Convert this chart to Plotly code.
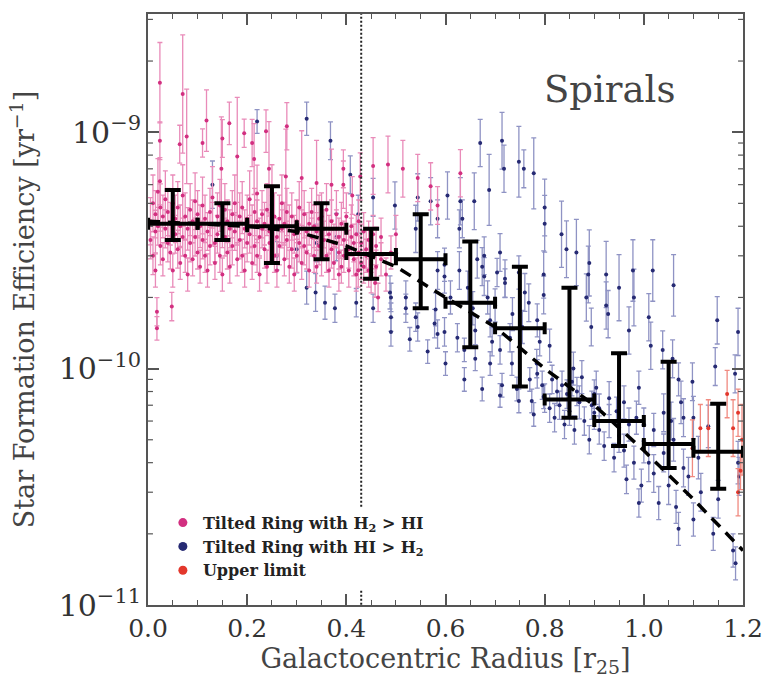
import plotly.graph_objects as go

# ---------------- data (SFE in units of 1e-10 yr^-1, errors in dex) ----------------
# Tilted rings with H2 > HI  (x [r25], SFE [1e-10 /yr], err [dex])
magenta_points = [
    (0.024, 16.2, 0.17), (0.024, 9.2, 0.08), (0.024, 6.2, 0.10), (0.018, 1.74, 0.06),
    (0.018, 1.48, 0.05), (0.048, 1.83, 0.06), (0.070, 14.5, 0.25), (0.078, 9.6, 0.20),
    (0.064, 8.9, 0.08), (0.118, 11.2, 0.13), (0.110, 9.0, 0.06), (0.164, 10.9, 0.09),
    (0.150, 9.4, 0.08), (0.148, 7.0, 0.22), (0.180, 7.9, 0.25), (0.194, 9.9, 0.06),
    (0.210, 9.0, 0.10), (0.214, 7.7, 0.15), (0.238, 10.1, 0.09), (0.244, 7.0, 0.20),
    (0.220, 5.5, 0.12), (0.280, 10.6, 0.10), (0.278, 6.5, 0.20), (0.310, 6.4, 0.20),
    (0.340, 6.1, 0.18), (0.370, 6.0, 0.15), (0.394, 6.0, 0.10), (0.394, 7.0, 0.08),
    (0.412, 5.4, 0.08), (0.428, 6.5, 0.10), (0.454, 7.2, 0.12), (0.454, 3.7, 0.08),
    (0.484, 7.3, 0.12), (0.514, 7.0, 0.12), (0.500, 3.7, 0.08), (0.544, 6.4, 0.10),
    (0.570, 5.9, 0.10), (0.584, 4.9, 0.08), (0.630, 6.7, 0.10), (0.385, 2.5, 0.07),
    (0.424, 2.6, 0.07), (0.458, 2.3, 0.06), (0.464, 2.0, 0.06),
    (0.005, 4.2, 0.10), (0.005, 3.5, 0.08), (0.010, 5.0, 0.12), (0.010, 3.0, 0.08),
    (0.015, 4.5, 0.10), (0.015, 3.8, 0.09), (0.015, 2.6, 0.07), (0.020, 4.0, 0.08),
    (0.020, 5.6, 0.14), (0.025, 3.3, 0.08), (0.025, 4.8, 0.10), (0.030, 4.4, 0.09),
    (0.030, 2.9, 0.07), (0.035, 3.9, 0.08), (0.035, 5.2, 0.12), (0.040, 4.6, 0.10),
    (0.040, 3.4, 0.08), (0.045, 3.1, 0.07), (0.045, 4.1, 0.09), (0.050, 5.0, 0.12),
    (0.050, 2.6, 0.07), (0.055, 3.7, 0.08), (0.055, 4.3, 0.10), (0.060, 4.8, 0.11),
    (0.060, 3.2, 0.08), (0.065, 2.8, 0.07), (0.065, 4.0, 0.09), (0.070, 3.6, 0.08),
    (0.070, 5.4, 0.13), (0.075, 4.4, 0.10), (0.075, 3.0, 0.07), (0.080, 3.9, 0.09),
    (0.080, 2.5, 0.07), (0.085, 4.7, 0.11), (0.085, 3.4, 0.08), (0.090, 4.2, 0.09),
    (0.090, 2.9, 0.07), (0.095, 3.6, 0.08), (0.095, 5.1, 0.12), (0.100, 4.5, 0.10),
    (0.100, 3.1, 0.07), (0.105, 4.0, 0.09), (0.105, 2.7, 0.07), (0.110, 3.5, 0.08),
    (0.110, 4.9, 0.12), (0.115, 4.3, 0.10), (0.115, 3.0, 0.07), (0.120, 3.8, 0.08),
    (0.120, 2.6, 0.07), (0.125, 4.6, 0.10), (0.125, 3.3, 0.08), (0.130, 4.1, 0.09),
    (0.130, 5.3, 0.13), (0.135, 3.4, 0.08), (0.135, 2.8, 0.07), (0.140, 4.4, 0.10),
    (0.140, 3.7, 0.08), (0.145, 3.0, 0.07), (0.145, 4.9, 0.11), (0.150, 4.0, 0.09),
    (0.150, 2.5, 0.07), (0.155, 3.6, 0.08), (0.155, 4.7, 0.11), (0.160, 4.2, 0.09),
    (0.160, 3.1, 0.07), (0.165, 2.7, 0.07), (0.165, 3.9, 0.08), (0.170, 4.5, 0.10),
    (0.170, 3.3, 0.08), (0.175, 3.8, 0.08), (0.175, 5.0, 0.12), (0.180, 4.1, 0.09),
    (0.180, 2.9, 0.07), (0.185, 3.5, 0.08), (0.185, 4.4, 0.10), (0.190, 4.8, 0.11),
    (0.190, 3.0, 0.07), (0.195, 3.9, 0.08), (0.195, 2.6, 0.07), (0.200, 4.3, 0.10),
    (0.200, 3.4, 0.08), (0.205, 3.7, 0.08), (0.205, 5.2, 0.12), (0.210, 4.0, 0.09),
    (0.210, 2.8, 0.07), (0.215, 3.3, 0.08), (0.215, 4.6, 0.10), (0.220, 4.2, 0.09),
    (0.220, 3.0, 0.07), (0.225, 3.6, 0.08), (0.225, 2.5, 0.07), (0.230, 4.5, 0.10),
    (0.230, 3.9, 0.08), (0.235, 3.2, 0.08), (0.235, 4.1, 0.09), (0.240, 4.7, 0.11),
    (0.240, 2.7, 0.07), (0.245, 3.8, 0.08), (0.245, 3.4, 0.08), (0.250, 4.0, 0.09),
    (0.250, 5.4, 0.13), (0.255, 3.0, 0.07), (0.255, 4.4, 0.10), (0.260, 3.6, 0.08),
    (0.260, 2.6, 0.07), (0.265, 4.3, 0.10), (0.265, 3.3, 0.08), (0.270, 3.9, 0.08),
    (0.270, 5.0, 0.12), (0.275, 2.9, 0.07), (0.275, 4.1, 0.09), (0.280, 3.5, 0.08),
    (0.280, 4.6, 0.10), (0.285, 4.0, 0.09), (0.285, 2.7, 0.07), (0.290, 3.2, 0.08),
    (0.290, 4.4, 0.10), (0.295, 3.7, 0.08), (0.295, 2.5, 0.07), (0.300, 4.2, 0.09),
    (0.300, 3.0, 0.07), (0.305, 3.4, 0.08), (0.305, 4.8, 0.11), (0.310, 3.9, 0.08),
    (0.310, 2.8, 0.07), (0.315, 4.5, 0.10), (0.315, 3.3, 0.08), (0.320, 3.1, 0.07),
    (0.320, 3.8, 0.08), (0.325, 4.1, 0.09), (0.325, 2.6, 0.07), (0.330, 3.6, 0.08),
    (0.330, 4.6, 0.10), (0.335, 3.0, 0.07), (0.335, 4.0, 0.09), (0.340, 3.8, 0.08),
    (0.340, 2.7, 0.07), (0.345, 3.3, 0.08), (0.345, 4.3, 0.10), (0.350, 4.4, 0.10),
    (0.350, 2.9, 0.07), (0.355, 3.5, 0.08), (0.355, 3.9, 0.08), (0.360, 3.0, 0.07),
    (0.360, 4.7, 0.11), (0.365, 3.7, 0.08), (0.365, 2.6, 0.07), (0.370, 4.2, 0.09),
    (0.370, 3.2, 0.08), (0.375, 3.4, 0.08), (0.375, 2.8, 0.07), (0.380, 3.9, 0.08),
    (0.380, 4.5, 0.10), (0.385, 3.1, 0.07), (0.385, 3.6, 0.08), (0.390, 4.1, 0.09),
    (0.390, 2.7, 0.07), (0.395, 3.5, 0.08), (0.395, 3.0, 0.07), (0.400, 3.8, 0.08),
    (0.400, 4.4, 0.10), (0.405, 3.2, 0.08), (0.405, 2.6, 0.07), (0.410, 3.6, 0.08),
    (0.410, 4.0, 0.09), (0.415, 2.9, 0.07), (0.415, 3.4, 0.08), (0.420, 3.7, 0.08),
    (0.420, 2.5, 0.07), (0.425, 3.1, 0.07), (0.425, 4.2, 0.09), (0.430, 3.4, 0.08),
    (0.430, 2.8, 0.07), (0.435, 2.7, 0.07), (0.435, 3.8, 0.08), (0.440, 3.2, 0.08),
    (0.440, 3.0, 0.07), (0.445, 2.6, 0.07), (0.445, 3.5, 0.08), (0.450, 3.0, 0.07),
    (0.450, 2.4, 0.06), (0.460, 3.3, 0.08), (0.460, 2.7, 0.07), (0.470, 2.9, 0.07),
    (0.470, 3.6, 0.08), (0.480, 2.5, 0.07), (0.490, 3.1, 0.07),
]

# Tilted rings with HI > H2
blue_points = [
    (0.220, 11.1, 0.05), (0.320, 11.4, 0.07), (0.368, 9.2, 0.08), (0.408, 6.6, 0.08),
    (0.130, 6.0, 0.10), (0.338, 2.1, 0.08), (0.357, 1.9, 0.07), (0.377, 1.8, 0.06),
    (0.320, 2.2, 0.07), (0.260, 3.0, 0.06), (0.300, 3.2, 0.10), (0.340, 3.4, 0.08),
    (0.380, 3.6, 0.10), (0.424, 4.5, 0.08), (0.454, 5.3, 0.08), (0.498, 4.9, 0.10),
    (0.544, 5.3, 0.10), (0.540, 3.9, 0.10), (0.570, 5.1, 0.10), (0.584, 4.3, 0.08),
    (0.604, 5.4, 0.10), (0.630, 5.1, 0.10), (0.634, 4.3, 0.08), (0.628, 3.9, 0.08),
    (0.658, 5.1, 0.12), (0.670, 9.0, 0.10), (0.688, 5.7, 0.15), (0.714, 9.2, 0.12),
    (0.718, 7.0, 0.10), (0.748, 7.5, 0.15), (0.758, 7.0, 0.08), (0.778, 6.7, 0.15),
    (0.800, 4.8, 0.12), (0.710, 3.1, 0.08), (0.674, 2.7, 0.08), (0.704, 2.55, 0.06),
    (0.720, 2.3, 0.06), (0.748, 2.55, 0.07), (0.628, 2.6, 0.08), (0.598, 2.75, 0.07),
    (0.664, 2.9, 0.08), (0.420, 1.9, 0.06), (0.454, 1.8, 0.06), (0.488, 2.1, 0.07),
    (0.490, 2.0, 0.06), (0.490, 1.65, 0.06), (0.490, 1.43, 0.06), (0.520, 2.0, 0.07),
    (0.520, 1.8, 0.06), (0.528, 1.33, 0.05), (0.540, 1.65, 0.06), (0.544, 1.5, 0.06),
    (0.564, 1.18, 0.05), (0.580, 1.78, 0.07), (0.578, 1.55, 0.06), (0.584, 1.4, 0.06),
    (0.598, 1.43, 0.06), (0.600, 1.05, 0.05), (0.584, 2.6, 0.08), (0.598, 2.45, 0.07),
    (0.624, 1.35, 0.06), (0.638, 1.2, 0.05), (0.638, 0.9, 0.05), (0.660, 1.45, 0.06),
    (0.660, 1.1, 0.05), (0.674, 0.82, 0.05), (0.678, 2.45, 0.08), (0.678, 3.0, 0.08),
    (0.690, 1.6, 0.07), (0.694, 1.3, 0.06), (0.690, 1.05, 0.05), (0.710, 1.2, 0.06),
    (0.714, 0.85, 0.05), (0.710, 0.77, 0.05), (0.720, 2.4, 0.08), (0.730, 1.35, 0.06),
    (0.734, 1.05, 0.05), (0.744, 0.82, 0.05), (0.748, 0.73, 0.05), (0.768, 1.9, 0.08),
    (0.770, 0.9, 0.05), (0.774, 0.73, 0.05), (0.778, 0.64, 0.05), (0.784, 1.05, 0.06),
    (0.798, 0.76, 0.05), (0.798, 2.5, 0.10), (0.798, 2.05, 0.08), (0.800, 4.1, 0.12),
    (0.834, 3.7, 0.14), (0.844, 3.2, 0.12), (0.864, 3.1, 0.14), (0.890, 2.8, 0.14),
    (0.888, 2.5, 0.12), (0.884, 2.0, 0.10), (0.894, 1.5, 0.08), (0.924, 2.5, 0.14),
    (0.928, 1.7, 0.10), (0.924, 1.85, 0.10), (0.950, 2.2, 0.14), (0.978, 2.6, 0.13),
    (0.980, 2.0, 0.12), (0.970, 1.45, 0.10), (1.018, 2.6, 0.13), (1.010, 1.65, 0.10),
    (1.014, 1.25, 0.10), (1.060, 2.25, 0.13), (1.038, 1.2, 0.08), (1.058, 1.1, 0.08),
    (1.070, 0.9, 0.07), (1.098, 0.88, 0.08), (1.148, 1.6, 0.10), (1.144, 1.02, 0.08),
    (1.184, 0.95, 0.08), (1.190, 1.43, 0.10), (0.990, 0.83, 0.07), (0.904, 0.83, 0.07),
    (0.858, 1.0, 0.07), (0.810, 1.25, 0.07),
    (0.800, 0.75, 0.06), (0.810, 0.68, 0.06), (0.820, 0.62, 0.06), (0.830, 0.70, 0.06),
    (0.840, 0.58, 0.06), (0.850, 0.66, 0.06), (0.860, 0.55, 0.06), (0.870, 0.72, 0.07),
    (0.880, 0.60, 0.06), (0.890, 0.50, 0.06), (0.900, 0.65, 0.07), (0.910, 0.55, 0.06),
    (0.920, 0.47, 0.06), (0.930, 0.60, 0.07), (0.940, 0.42, 0.06), (0.950, 0.52, 0.07),
    (0.960, 0.45, 0.07), (0.965, 0.34, 0.06), (0.970, 0.58, 0.07), (0.980, 0.40, 0.07),
    (0.990, 0.27, 0.06), (0.995, 0.32, 0.07), (1.000, 0.48, 0.08), (1.010, 0.40, 0.08),
    (1.020, 0.36, 0.08), (1.030, 0.27, 0.07), (1.040, 0.44, 0.08), (1.050, 0.32, 0.08),
    (1.060, 0.50, 0.09), (1.065, 0.26, 0.07), (1.070, 0.21, 0.07), (1.080, 0.38, 0.08),
    (1.090, 0.35, 0.08), (1.100, 0.23, 0.07), (1.110, 0.42, 0.09), (1.115, 0.30, 0.08),
    (1.140, 0.20, 0.07), (1.150, 0.28, 0.08), (1.180, 0.17, 0.07), (1.185, 0.15, 0.07),
    (1.190, 0.40, 0.09), (1.192, 0.35, 0.08), (1.100, 0.62, 0.09), (1.130, 0.57, 0.09),
    (1.075, 0.72, 0.09), (1.080, 0.62, 0.08),
    (0.785, 0.95, 0.06), (0.795, 0.85, 0.06), (0.815, 0.90, 0.06), (0.825, 0.80, 0.06),
    (0.835, 0.85, 0.06), (0.845, 0.78, 0.06), (0.855, 0.88, 0.06), (0.865, 0.80, 0.06),
    (0.875, 0.92, 0.07), (0.895, 0.70, 0.06), (0.900, 0.78, 0.06), (0.910, 0.68, 0.06),
    (0.930, 0.75, 0.07), (0.945, 0.66, 0.06), (0.960, 0.72, 0.07), (0.985, 0.62, 0.07),
    (1.000, 0.58, 0.07), (1.020, 0.55, 0.07), (1.040, 0.65, 0.08), (1.055, 0.60, 0.08),
    (0.610, 2.0, 0.07), (0.645, 2.2, 0.07), (0.655, 1.8, 0.07), (0.685, 2.0, 0.07),
    (0.700, 1.85, 0.07), (0.735, 1.7, 0.07), (0.755, 1.5, 0.07), (0.760, 2.1, 0.08),
    (0.785, 1.6, 0.07), (0.790, 1.3, 0.06),
]

# Upper limits
red_points = [
    (1.098, 0.46, 0.12), (1.114, 0.56, 0.10), (1.130, 0.56, 0.12), (1.168, 0.78, 0.10),
    (1.180, 0.56, 0.12), (1.190, 0.65, 0.10), (1.190, 0.30, 0.10), (1.195, 0.37, 0.08),
    (1.198, 0.50, 0.15),
]

# Binned medians
bin_x = [0.05, 0.15, 0.25, 0.35, 0.45, 0.55, 0.65, 0.75, 0.85, 0.95, 1.05, 1.15]
bin_halfwidth = [0.05] * 12
bin_sfe = [4.1, 4.1, 4.0, 3.9, 3.05, 2.9, 1.9, 1.48, 0.74, 0.60, 0.48, 0.445]
bin_upper = [5.7, 5.0, 5.9, 5.0, 3.9, 4.5, 3.45, 2.7, 2.2, 1.16, 1.07, 0.71]
bin_lower = [3.5, 3.5, 2.8, 2.9, 2.4, 1.8, 1.23, 0.84, 0.62, 0.47, 0.38, 0.31]

# Dashed fit curve
fit_x = [0.0, 0.1, 0.2, 0.3, 0.4, 0.5, 0.6, 0.7, 0.8, 0.9, 1.0, 1.1, 1.2]
fit_sfe = [4.2, 4.1, 4.0, 3.8, 3.3, 2.7, 2.0, 1.5, 1.0, 0.70, 0.45, 0.28, 0.17]

# vertical dotted marker
vline_x = 0.43

UNIT = 1e-10
X_RANGE = [0.0, 1.2]
Y_RANGE = [-11.0, -8.5]


def series(points):
    xs = [p[0] for p in points]
    ys = [p[1] * UNIT for p in points]
    up = [p[1] * UNIT * (10 ** p[2] - 1) for p in points]
    dn = [p[1] * UNIT * (1 - 10 ** (-p[2])) for p in points]
    return xs, ys, up, dn


fig = go.Figure()


def add_points(points, mcolor, ecolor):
    xs, ys, up, dn = series(points)
    fig.add_trace(go.Scatter(
        x=xs, y=ys, mode="markers", showlegend=False,
        marker=dict(color=mcolor, size=4),
        error_y=dict(type="data", symmetric=False, array=up, arrayminus=dn,
                     color=ecolor, thickness=1.3, width=2.5),
    ))


add_points(blue_points, "#262a73", "#8f93c4")
add_points(magenta_points, "#d22f80", "#e98bb9")
add_points(red_points, "#e3372c", "#f08a80")

# minor log ticks on left and right frame (axis decoration, 2..9 of each decade)
minor_y = [m * 10.0 ** e for e in (-11, -10, -9) for m in range(2, 10)]
minor_y = [v for v in minor_y if v < 10 ** Y_RANGE[1]]
tick_len_x = (X_RANGE[1] - X_RANGE[0]) * 5 / 601
mtx, mty = [], []
for v in minor_y:
    mtx += [X_RANGE[0], X_RANGE[0] + tick_len_x, None, X_RANGE[1] - tick_len_x, X_RANGE[1], None]
    mty += [v, v, None, v, v, None]
fig.add_trace(go.Scatter(x=mtx, y=mty, mode="lines", line=dict(color="#555", width=1.2),
                         showlegend=False, hoverinfo="skip", cliponaxis=False))

# dotted vertical line
fig.add_trace(go.Scatter(x=[vline_x, vline_x], y=[3.2e-9, 2.6e-11], mode="lines",
                         line=dict(color="#222", width=2, dash="2px,2px"), showlegend=False))
fig.add_trace(go.Scatter(x=[vline_x, vline_x], y=[1.15e-11, 1.0e-11], mode="lines",
                         line=dict(color="#222", width=2, dash="2px,2px"), showlegend=False))

# dashed fit
fig.add_trace(go.Scatter(x=fit_x, y=[v * UNIT for v in fit_sfe], mode="lines",
                         line=dict(color="black", width=3.5, dash="12px,8px"),
                         showlegend=False))

# binned values
fig.add_trace(go.Scatter(
    x=bin_x, y=[v * UNIT for v in bin_sfe], mode="markers", showlegend=False,
    marker=dict(color="black", size=1),
    error_y=dict(type="data", symmetric=False,
                 array=[(u - v) * UNIT for u, v in zip(bin_upper, bin_sfe)],
                 arrayminus=[(v - l) * UNIT for l, v in zip(bin_lower, bin_sfe)],
                 color="black", thickness=4, width=8),
    error_x=dict(type="data", array=bin_halfwidth, color="black", thickness=4, width=6),
))

# legend entries
for name, col in [("Tilted Ring with H<sub>2</sub> > HI", "#d22f80"),
                  ("Tilted Ring with HI > H<sub>2</sub>", "#262a73"),
                  ("Upper limit", "#e3372c")]:
    fig.add_trace(go.Scatter(x=[None], y=[None], mode="markers", name=name,
                             marker=dict(color=col, size=9)))

FONT = "DejaVu Serif"

fig.update_layout(
    width=775, height=690,
    margin=dict(l=148, r=26, t=13, b=85),
    paper_bgcolor="white", plot_bgcolor="white",
    font=dict(family=FONT, color="#333", size=24),
    showlegend=True,
    legend=dict(x=0.025, y=0.168, xanchor="left", yanchor="top",
                bgcolor="rgba(0,0,0,0)",
                font=dict(size=16, color="#222", family=FONT, weight="bold"),
                itemwidth=30, tracegroupgap=0),
    annotations=[dict(text="Spirals", x=0.775, y=0.873, xref="paper", yref="paper",
                      xanchor="center", yanchor="middle",
                      showarrow=False, font=dict(size=37, color="#444", family=FONT))],
)

fig.update_xaxes(
    range=X_RANGE, tickmode="linear", tick0=0, dtick=0.2, tickformat=".1f",
    ticks="inside", ticklen=11, tickwidth=1.5, tickcolor="#555",
    showline=True, linewidth=2, linecolor="#555", mirror="ticks",
    showgrid=False, zeroline=False,
    minor=dict(ticks="inside", ticklen=5, tickwidth=1.2, tickcolor="#555", dtick=0.05, showgrid=False),
    tickfont=dict(size=25, color="#333"),
    title=dict(text="Galactocentric Radius [r<sub>25</sub>]", font=dict(size=27, color="#444"), standoff=4),
)

fig.update_yaxes(
    type="log", range=Y_RANGE,
    tickmode="linear", tick0=0, dtick=1, exponentformat="power", showexponent="all",
    ticks="inside", ticklen=11, tickwidth=1.5, tickcolor="#555",
    showline=True, linewidth=2, linecolor="#555", mirror="ticks",
    showgrid=False, zeroline=False,
    tickfont=dict(size=24, color="#333"),
    title=dict(text="Star Formation Efficiency [yr<sup>−1</sup>]", font=dict(size=27, color="#444"), standoff=16),
)

fig.write_html("out.html")
